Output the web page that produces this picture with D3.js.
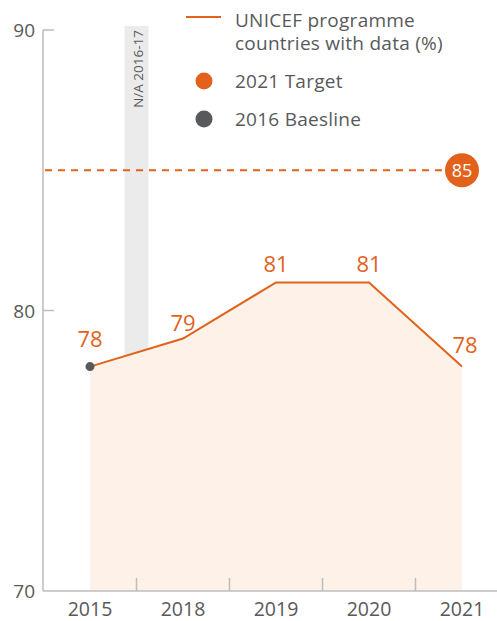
<!DOCTYPE html>
<html>
<head>
<meta charset="utf-8">
<script src="https://cdn.jsdelivr.net/npm/d3@7"></script>
<style>
	body { margin: 0; background: #fff; }
	svg text { font-family: "Open Sans", Roboto, sans-serif; }
</style>
</head>
<body>
<div class="container"></div>
<script>
var years = ["2015", "2018", "2019", "2020", "2021"];
var values = [78, 79, 81, 81, 78];
var yTicks = [70, 80, 90];
var target = 85;
var naLabel = "N/A 2016-17";
var legendLabels = [["UNICEF programme", "countries with data (%)"], ["2021 Target"], ["2016 Baesline"]];

var chart = function () {
	var width = 497, height = 621;
	var orange = "#E2621B", fillColor = "#FDF1E8", grey = "#58595B", axisGrey = "#BDBDBD";
	var labelDy = [-20, -8, -10, -10, -14]; // label lift above each point

	var init = function () {
		var svg = d3.select('.container').append("svg")
			.attr("width", width)
			.attr("height", height);

		var x = d3.scalePoint().domain(years).range([90, 462]);
		var y = d3.scaleLinear().domain([70, 90]).range([591, 30]);
		var step = x.step();

		// N/A band between 2015 and 2018
		var naX = x("2015") + step / 2;
		svg.append("rect")
			.attr("x", naX - 12)
			.attr("y", 26)
			.attr("width", 24)
			.attr("height", y(70) - 26)
			.attr("fill", "#EBEBEB");

		svg.append("text")
			.attr("transform", "translate(" + (naX + 6) + ",30) rotate(-90)")
			.attr("text-anchor", "end")
			.attr("font-size", 13.5)
			.attr("fill", grey)
			.text(naLabel);

		// area
		var area = d3.area()
			.x(function (d, i) { return x(years[i]); })
			.y0(y(70))
			.y1(function (d) { return y(d); });
		svg.append("path")
			.datum(values)
			.attr("d", area)
			.attr("fill", fillColor);

		// axes
		svg.append("line")
			.attr("x1", 43).attr("x2", 43)
			.attr("y1", y(90)).attr("y2", y(70))
			.attr("stroke", axisGrey).attr("stroke-width", 1.5);
		svg.append("line")
			.attr("x1", 43).attr("x2", width)
			.attr("y1", y(70)).attr("y2", y(70))
			.attr("stroke", axisGrey).attr("stroke-width", 1.5);

		svg.selectAll(".ytick").data(yTicks.slice(1)).enter().append("line")
			.attr("x1", 43).attr("x2", 54)
			.attr("y1", function (d) { return y(d); })
			.attr("y2", function (d) { return y(d); })
			.attr("stroke", axisGrey).attr("stroke-width", 1.5);

		svg.selectAll(".ylab").data(yTicks).enter().append("text")
			.attr("x", 35)
			.attr("y", function (d) { return y(d) + 7; })
			.attr("text-anchor", "end")
			.attr("font-size", 19)
			.attr("fill", grey)
			.text(function (d) { return d; });

		svg.selectAll(".xtick").data(years.slice(1)).enter().append("line")
			.attr("x1", function (d) { return x(d) - step / 2; })
			.attr("x2", function (d) { return x(d) - step / 2; })
			.attr("y1", y(70)).attr("y2", y(70) - 13)
			.attr("stroke", axisGrey).attr("stroke-width", 1.5);

		svg.selectAll(".xlab").data(years).enter().append("text")
			.attr("x", function (d) { return x(d); })
			.attr("y", 616)
			.attr("text-anchor", "middle")
			.attr("font-size", 19.5)
			.attr("fill", grey)
			.text(function (d) { return d; });

		// target line
		svg.append("line")
			.attr("x1", 45).attr("x2", x("2021") - 16)
			.attr("y1", y(target)).attr("y2", y(target))
			.attr("stroke", orange).attr("stroke-width", 2)
			.attr("stroke-dasharray", "7,6");
		svg.append("circle")
			.attr("cx", x("2021")).attr("cy", y(target)).attr("r", 17)
			.attr("fill", orange);
		svg.append("text")
			.attr("x", x("2021")).attr("y", y(target) + 6.5)
			.attr("text-anchor", "middle")
			.attr("font-size", 18)
			.attr("fill", "#fff")
			.text(target);

		// line
		var line = d3.line()
			.x(function (d, i) { return x(years[i]); })
			.y(function (d) { return y(d); });
		svg.append("path")
			.datum(values)
			.attr("d", line)
			.attr("fill", "none")
			.attr("stroke", orange)
			.attr("stroke-width", 2);

		svg.append("circle")
			.attr("cx", x(years[0])).attr("cy", y(values[0])).attr("r", 4.5)
			.attr("fill", grey);

		svg.selectAll(".vlab").data(values).enter().append("text")
			.attr("x", function (d, i) { return x(years[i]) + (i === values.length - 1 ? 3 : 0); })
			.attr("y", function (d, i) { return y(d) + labelDy[i]; })
			.attr("text-anchor", "middle")
			.attr("font-size", 22)
			.attr("fill", orange)
			.text(function (d) { return d; });

		// legend
		svg.append("line")
			.attr("x1", 186).attr("x2", 221)
			.attr("y1", 17).attr("y2", 17)
			.attr("stroke", orange).attr("stroke-width", 2);
		svg.selectAll(".leg0").data(legendLabels[0]).enter().append("text")
			.attr("x", 235)
			.attr("y", function (d, i) { return 27 + i * 23; })
			.attr("font-size", 19)
			.attr("letter-spacing", 0.25)
			.attr("fill", grey)
			.text(function (d) { return d; });
		svg.append("circle").attr("cx", 204).attr("cy", 81).attr("r", 8.5).attr("fill", orange);
		svg.append("text").attr("x", 235).attr("y", 87.5)
			.attr("font-size", 19).attr("letter-spacing", 0.25)
			.attr("fill", grey).text(legendLabels[1][0]);
		svg.append("circle").attr("cx", 204).attr("cy", 119).attr("r", 8.5).attr("fill", grey);
		svg.append("text").attr("x", 235).attr("y", 125.5)
			.attr("font-size", 19).attr("letter-spacing", 0.25)
			.attr("fill", grey).text(legendLabels[2][0]);
	};

	return Object.freeze({ init: init });
};

chart().init();
</script>
</body>
</html>
